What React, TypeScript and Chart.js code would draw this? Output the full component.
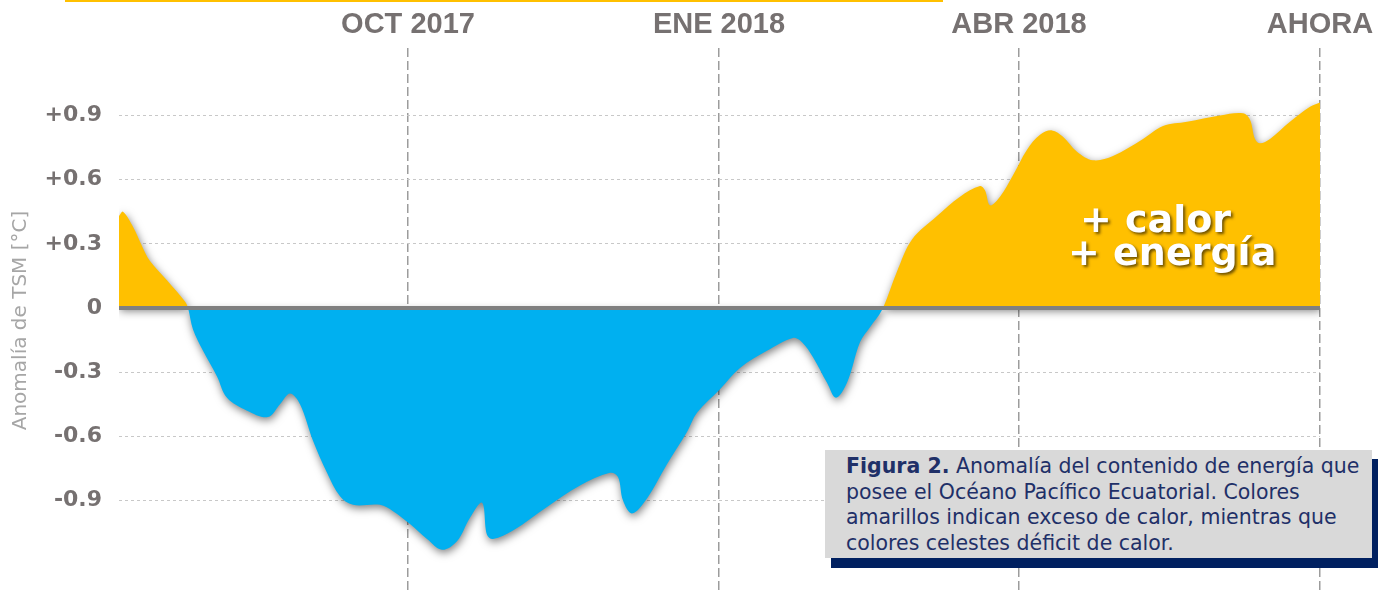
import React, { useEffect, useRef } from 'react';
import { Chart, registerables } from 'chart.js';

Chart.register(...registerables);

// Time axis in months since the start of the record (Jul 2017)
const months = [
  0, 0.04, 0.14, 0.23, 0.31, 0.48, 0.66, 0.69, 0.74, 0.84,
  0.98, 1.08, 1.28, 1.49, 1.61, 1.71, 1.81, 1.94, 2.08, 2.21,
  2.34, 2.61, 2.74, 2.91, 3.08, 3.23, 3.38, 3.51, 3.63, 3.68,
  3.74, 3.94, 4.28, 4.61, 4.91, 4.99, 5.04, 5.13, 5.28, 5.48,
  5.68, 5.78, 6.01, 6.21, 6.48, 6.74, 6.83, 6.94, 7.08, 7.17,
  7.28, 7.41, 7.51, 7.63, 7.78, 7.93, 8.18, 8.41, 8.61, 8.66,
  8.71, 8.81, 8.94, 9.08, 9.21, 9.33, 9.44, 9.58, 9.74, 9.94,
  10.24, 10.44, 10.68, 11.01, 11.24, 11.31, 11.36, 11.41, 11.51, 11.71,
  11.91, 12.01,
];

// SST anomaly (°C)
const anomaly = [
  0.43, 0.45, 0.38, 0.29, 0.22, 0.13, 0.03, 0.0, -0.1, -0.2,
  -0.32, -0.42, -0.48, -0.51, -0.45, -0.4, -0.45, -0.62, -0.77, -0.88,
  -0.92, -0.92, -0.95, -1.01, -1.08, -1.13, -1.09, -0.98, -0.91, -1.06,
  -1.08, -1.04, -0.93, -0.83, -0.77, -0.79, -0.9, -0.96, -0.89, -0.73,
  -0.58, -0.49, -0.38, -0.28, -0.2, -0.14, -0.16, -0.23, -0.35, -0.42,
  -0.35, -0.16, -0.09, -0.01, 0.17, 0.32, 0.43, 0.52, 0.57, 0.55,
  0.48, 0.52, 0.62, 0.74, 0.81, 0.83, 0.8, 0.73, 0.69, 0.71,
  0.79, 0.85, 0.87, 0.9, 0.91, 0.88, 0.79, 0.77, 0.79, 0.87,
  0.94, 0.96,
];

const xTickPos = [2.89, 6.0, 9.0, 12.01];
const xTickLabels = ['OCT 2017', 'ENE 2018', 'ABR 2018', 'AHORA'];
const yTicks = [-0.9, -0.6, -0.3, 0, 0.3, 0.6, 0.9];
const yTitle = 'Anomalía de TSM [°C]';
const bigLabelLines = ['+ calor', '+ energía'];
const captionLines = [
  'Anomalía del contenido de energía que',
  'posee el Océano Pacífico Ecuatorial. Colores',
  'amarillos indican exceso de calor, mientras que',
  'colores celestes déficit de calor.',
];
const captionBold = 'Figura 2.';

const decorPlugin = {
  id: 'decor',
  beforeDatasetsDraw(chart: any) {
    const ctx = chart.ctx;
    ctx.save();
    ctx.shadowColor = 'rgba(0,0,0,0.5)';
    ctx.shadowBlur = 9;
    ctx.shadowOffsetX = 1;
    ctx.shadowOffsetY = 3;
  },
  afterDatasetsDraw(chart: any) {
    const ctx = chart.ctx;
    ctx.restore();
    const xs = chart.scales.x;
    const ys = chart.scales.y;
    const y0 = ys.getPixelForValue(0);
    ctx.save();
    ctx.strokeStyle = '#808080';
    ctx.lineWidth = 4;
    ctx.beginPath();
    ctx.moveTo(xs.getPixelForValue(months[0]), y0);
    ctx.lineTo(xs.getPixelForValue(months[months.length - 1]), y0);
    ctx.stroke();

    ctx.font = 'bold 38px "DejaVu Sans"';
    ctx.fillStyle = '#FFFFFF';
    ctx.textBaseline = 'alphabetic';
    ctx.textAlign = 'left';
    ctx.shadowColor = 'rgba(70,50,0,0.8)';
    ctx.shadowBlur = 3;
    ctx.shadowOffsetX = 2;
    ctx.shadowOffsetY = 2;
    ctx.fillText(bigLabelLines[0], xs.getPixelForValue(9.61), ys.getPixelForValue(0.355));
    ctx.fillText(bigLabelLines[1], xs.getPixelForValue(9.49), ys.getPixelForValue(0.2));
    ctx.restore();
  },
};

export default function App() {
  const canvasRef = useRef<HTMLCanvasElement | null>(null);

  useEffect(() => {
    const canvas = canvasRef.current;
    if (!canvas) return;
    const chart = new Chart(canvas, {
      type: 'line',
      data: {
        datasets: [
          {
            data: months.map((m, i) => ({ x: m, y: anomaly[i] })),
            fill: { target: 'origin', above: '#FFC000', below: '#00B0F0' },
            borderColor: 'transparent',
            borderWidth: 0,
            pointRadius: 0,
            tension: 0.35,
          } as any,
        ],
      },
      options: {
        animation: false,
        responsive: false,
        devicePixelRatio: 1,
        layout: { padding: { left: 0, top: 0, right: 66, bottom: 0 } },
        plugins: { legend: { display: false }, tooltip: { enabled: false } },
        scales: {
          x: {
            type: 'linear',
            position: 'top',
            min: 0,
            max: 12.01,
            z: 1,
            afterBuildTicks: (s: any) => {
              s.ticks = xTickPos.map((v) => ({ value: v }));
            },
            afterFit: (s: any) => {
              s.height = 48;
              s.paddingLeft = 0;
              s.paddingRight = 0;
            },
            ticks: {
              autoSkip: false,
              maxRotation: 0,
              padding: 6,
              color: '#767171',
              font: { family: '"Liberation Sans", Arial', size: 29, weight: 'bold' },
              callback: (_v: any, i: number) => xTickLabels[i],
            },
            grid: { drawTicks: false, color: '#9C9C9C', lineWidth: 1.5 },
            border: { display: false, dash: [9, 4] },
          } as any,
          y: {
            min: -1.332,
            max: 1.215,
            afterBuildTicks: (s: any) => {
              s.ticks = yTicks.map((v) => ({ value: v }));
            },
            afterFit: (s: any) => {
              s.width = 119;
              s.paddingTop = 0;
              s.paddingBottom = 0;
            },
            ticks: {
              padding: 17,
              color: '#767171',
              font: { family: '"DejaVu Sans"', size: 22, weight: 'bold' },
              callback: (v: any) => {
                const n = Number(v);
                if (n === 0) return '0';
                return n > 0 ? '+' + n.toFixed(1) : n.toFixed(1);
              },
            },
            grid: {
              drawTicks: false,
              lineWidth: 1,
              color: (c: any) => (c.tick && c.tick.value === 0 ? 'rgba(0,0,0,0)' : '#C8C8C8'),
            },
            border: { display: false, dash: [3, 3] },
            title: {
              display: true,
              text: yTitle,
              color: '#A6A6A6',
              font: { family: '"DejaVu Sans"', size: 20, weight: 'normal' },
              padding: { top: 9, bottom: 0 },
            },
          } as any,
        },
      },
      plugins: [decorPlugin],
    });
    return () => chart.destroy();
  }, []);

  return (
    <div
      style={{
        position: 'absolute',
        left: 0,
        top: 0,
        width: 1386,
        height: 593,
        background: '#FFFFFF',
        overflow: 'hidden',
      }}
    >
      <canvas
        ref={canvasRef}
        width={1386}
        height={593}
        style={{ position: 'absolute', left: 0, top: 0, width: 1386, height: 593 }}
      />
      <div
        style={{
          position: 'absolute',
          left: 65,
          top: 0,
          width: 878,
          height: 2,
          background: '#FFC000',
        }}
      />
      <div
        style={{
          position: 'absolute',
          left: 831,
          top: 459,
          width: 547,
          height: 109,
          background: '#002060',
        }}
      />
      <div
        style={{
          position: 'absolute',
          left: 825,
          top: 450,
          width: 547,
          height: 108,
          background: '#D9D9D9',
          boxSizing: 'border-box',
          paddingLeft: 21,
          paddingTop: 4,
          fontFamily: '"DejaVu Sans", sans-serif',
          fontSize: 20.5,
          lineHeight: '25.7px',
          color: '#1F3068',
          whiteSpace: 'nowrap',
        }}
      >
        <div>
          <b>{captionBold}</b> {captionLines[0]}
        </div>
        <div>{captionLines[1]}</div>
        <div>{captionLines[2]}</div>
        <div>{captionLines[3]}</div>
      </div>
    </div>
  );
}
